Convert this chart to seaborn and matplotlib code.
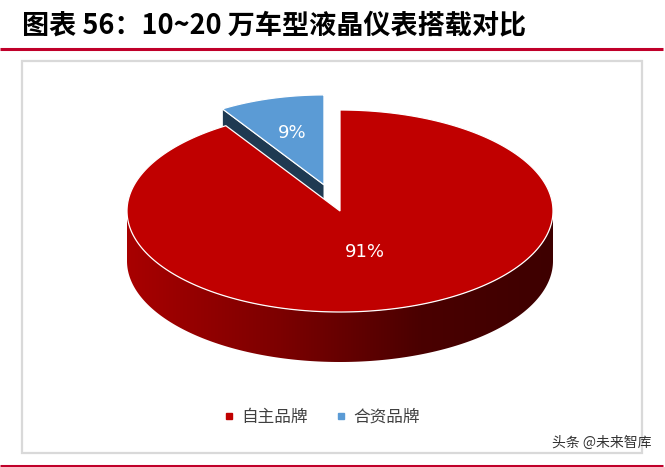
import numpy as np
import seaborn as sns
import matplotlib.pyplot as plt
from matplotlib.patches import Rectangle, Polygon
from matplotlib.lines import Line2D
from matplotlib.colors import LinearSegmentedColormap

# data
labels = ['自主品牌', '合资品牌']
shares = [91, 9]
pct_labels = ['91%', '9%']
title = '图表 56：10~20 万车型液晶仪表搭载对比'
watermark = '头条 @未来智库'

sns.set_theme(style='white')
plt.rcParams['font.family'] = ['Noto Sans CJK SC', 'DejaVu Sans']

top_colors = sns.color_palette(['#c00000', '#5b9bd5'])
cut_colors = ['#5a0000', '#1f3a52']
side_cmap = LinearSegmentedColormap.from_list(
    'side', [(0.0, '#a80000'), (0.36, '#7c0000'), (0.69, '#4a0000'), (1.0, '#3e0000')])

# pie geometry (pixel space, y down)
cx, cy, rx, ry, depth = 340, 211, 213, 101, 50
explode = [0.0, 0.27]
persp = [1.0, 0.89]   # exploded slice sits further back, drawn smaller
label_r = [0.42, 0.6]

fig = plt.figure(figsize=(6.65, 4.67), dpi=100)
ax = fig.add_axes([0, 0, 1, 1])
ax.set_xlim(0, 665)
ax.set_ylim(467, 0)
ax.axis('off')

# frame + header / footer rules
ax.add_patch(Rectangle((22, 61), 620, 392, fill=False, edgecolor='#d9d9d9', lw=1.6, zorder=1))
ax.plot([0, 663], [49, 49], color='#c0002a', lw=2.2, solid_capstyle='butt')
ax.plot([0, 663], [465.5, 465.5], color='#c0002a', lw=2.2, solid_capstyle='butt')
ax.text(22, 25, title, fontsize=19.5, fontweight='bold', fontstyle='italic',
        va='center', ha='left', color='black')

# slice angles, clockwise from 12 o'clock
total = sum(shares)
starts, ends = [], []
a = 90.0
for v in shares:
    starts.append(a)
    a -= 360.0 * v / total
    ends.append(a)


def pt(x0, y0, t, s, dz=0.0):
    r = np.deg2rad(t)
    return x0 + rx * s * np.cos(r), y0 - ry * s * np.sin(r) + dz


def draw_slice(i, z):
    lo, hi = ends[i], starts[i]  # ccw range
    mid = np.deg2rad((lo + hi) / 2)
    x0 = cx + rx * explode[i] * np.cos(mid)
    y0 = cy - ry * explode[i] * np.sin(mid)
    s = persp[i]
    d = depth * s
    # cut faces facing the viewer
    for edge, nrm in [(hi, hi + 90), (lo, lo - 90)]:
        if np.sin(np.deg2rad(nrm)) < -0.05:
            px, py = pt(x0, y0, edge, s)
            quad = [(x0, y0), (px, py), (px, py + d), (x0, y0 + d)]
            ax.add_patch(Polygon(quad, closed=True, facecolor=cut_colors[i],
                                 edgecolor='white', lw=0.6, zorder=z))
    # outer rim, front half only, shaded left to right
    for off in (-360, 0, 360):
        a0, a1 = max(lo, 180 + off), min(hi, 360 + off)
        if a1 > a0:
            ts = np.linspace(a0, a1, 200)
            tx, ty = pt(x0, y0, ts, s)
            verts = list(zip(tx, ty)) + list(zip(tx[::-1], ty[::-1] + d))
            rim = Polygon(verts, closed=True, facecolor='none', edgecolor='none', zorder=z + 0.1)
            ax.add_patch(rim)
            grad = np.linspace(0, 1, 256)[None, :]
            im = ax.imshow(grad, cmap=side_cmap, aspect='auto', interpolation='bilinear',
                           extent=(x0 - rx * s, x0 + rx * s, y0 + ry * s + d + 2, y0 - 2),
                           zorder=z + 0.1)
            im.set_clip_path(rim)
    # top face
    ts = np.linspace(lo, hi, 300)
    xs, ys = pt(x0, y0, ts, s)
    verts = [(x0, y0)] + list(zip(xs, ys))
    ax.add_patch(Polygon(verts, closed=True, facecolor=top_colors[i],
                         edgecolor='white', lw=0.9, zorder=z + 0.2))
    lx, ly = pt(x0, y0, np.rad2deg(mid), s * label_r[i])
    ax.text(lx, ly, pct_labels[i], color='white', fontsize=13,
            family='DejaVu Sans', ha='center', va='center', zorder=z + 0.3)


# back slice first, then the front one
draw_slice(1, 2)
draw_slice(0, 3)

ax.set_xlim(0, 665)
ax.set_ylim(467, 0)

handles = [Line2D([], [], marker='s', ls='', color=top_colors[i], markersize=4.5)
           for i in range(len(labels))]
ax.legend(handles, labels, loc='center', bbox_to_anchor=(0.483, 1 - 417 / 467),
          ncol=2, frameon=False, fontsize=12, handlelength=0.8, handletextpad=0.35,
          columnspacing=1.6, labelcolor='#404040')

ax.text(651, 443, watermark, ha='right', va='center', fontsize=10, color='#333333')

plt.savefig('out.png', dpi=100)
plt.close()
